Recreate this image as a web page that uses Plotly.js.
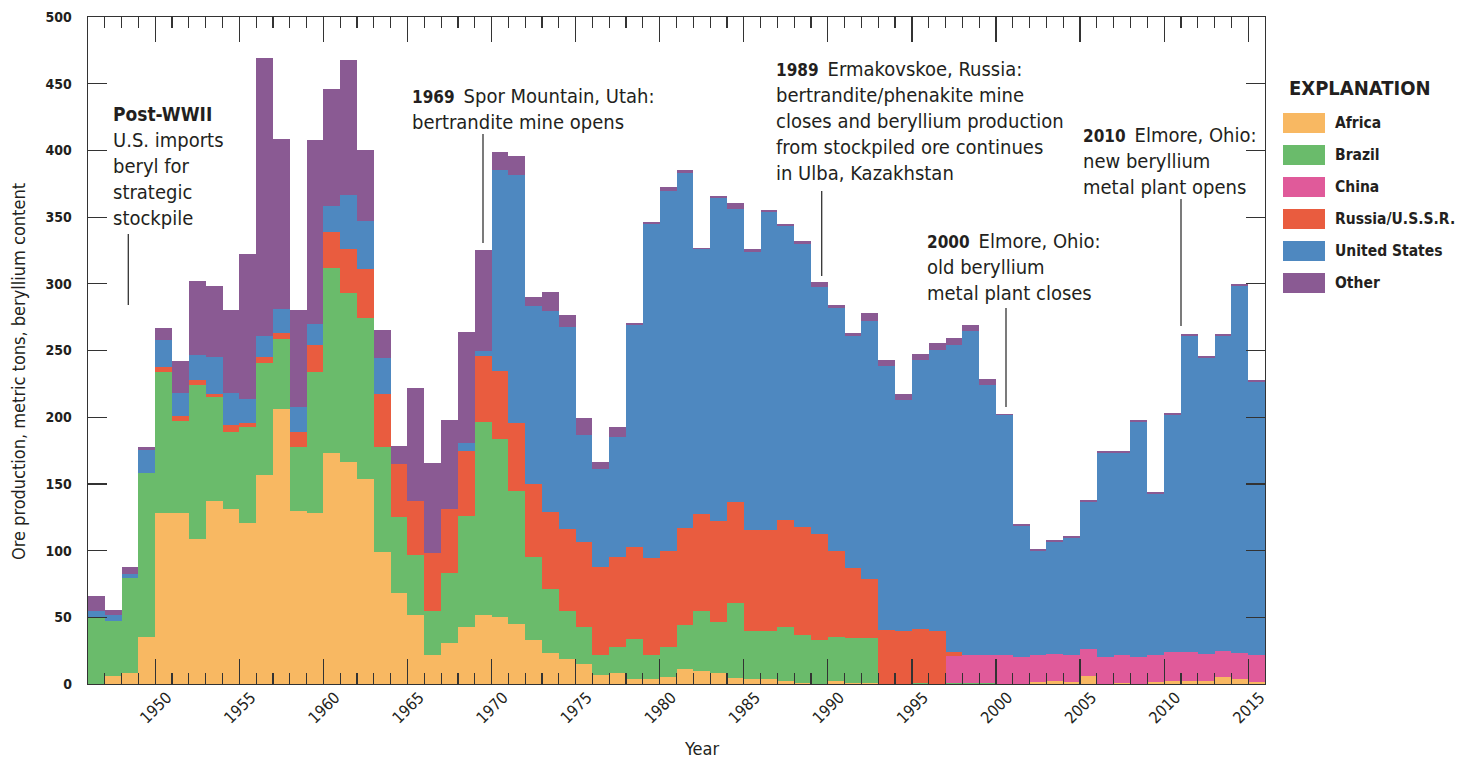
<!DOCTYPE html>
<html><head><meta charset="utf-8">
<script src="https://cdn.plot.ly/plotly-3.0.1.min.js"></script>
<style>html,body{margin:0;padding:0;background:#fff}#chart{width:1472px;height:761px}</style>
</head><body><div id="chart"></div>
<script>
const years = [1946,1947,1948,1949,1950,1951,1952,1953,1954,1955,1956,1957,1958,1959,1960,1961,1962,1963,1964,1965,1966,1967,1968,1969,1970,1971,1972,1973,1974,1975,1976,1977,1978,1979,1980,1981,1982,1983,1984,1985,1986,1987,1988,1989,1990,1991,1992,1993,1994,1995,1996,1997,1998,1999,2000,2001,2002,2003,2004,2005,2006,2007,2008,2009,2010,2011,2012,2013,2014,2015];
const africa = [0,6,8.4,35,128,128,109,137,131,121,157,206,130,128,173,166.5,154,99,68,52,22,31,43,52,50,45,33,23,19,15,7,8.5,4,4,5.5,11,9.5,8.5,4.5,4,3.9,2.6,1,0.3,2.1,0.6,0.5,0,0,0,0,0,0,0,0,0,1.6,2.6,1.4,5.9,0.3,0.9,0,1.4,1.9,2.6,2.6,4.9,4.1,1.6];
const brazil = [50,41,71,123,106,69,115,78,58,72,84,52.5,48,106,139,126.5,120,78.5,57,45,32.5,52.5,83,144.5,134,100,62,48.5,36,28,14.5,19.5,29.5,18,22,33.5,45,38,56,35.5,36.2,40,36,33,33.3,34,34.1,0,0,1,0,0.5,0.5,0.5,0,0,0,0,0,0,0,0,0,0,0,0,0,0,0,0];
const china = [0,0,0,0,0,0,0,0,0,0,0,0,0,0,0,0,0,0,0,0,0,0,0,0,0,0,0,0,0,0,0,0,0,0,0,0,0,0,0,0,0,0,0,0,0,0,0,0,0,0,0,20.3,20.9,20.9,21.4,20,19.8,20,20,20,20.1,20.5,20.1,20,22.2,21.5,20,19.7,19.3,19.8];
const russia = [0,0,0,0,4,4,4,2.5,5,3,4.5,4.5,11,20,27,33,37,40,40,40,43.5,48,48.5,49.5,51,50.5,55,57.5,61.5,63.5,66.5,67.5,69.5,72.5,72,72.5,73,75.5,76,75.7,75.7,80,80.4,79.5,64.1,52.5,44.2,40.8,39.6,40.4,40.1,3,0,0,0,0,0,0,0,0,0,0,0,0,0,0,0,0,0,0];
const unitedStates = [5,5,3,17.5,20,17.5,19,27.5,24,18,15.5,18.4,19,16,19,40.5,36,27,0,0,0,0,6,4,150,186,133,150.5,151,80.5,73,90,166,250,270,266,198.5,242.5,219.5,208.6,237.8,220.6,212.4,184.6,182.4,174,193.6,197.3,173.6,201.2,210.6,230.6,243,203,180.3,98.5,78.4,83.7,87.9,110.3,152.6,151.6,176.1,120.8,177.6,236.8,222.1,236.3,275.2,205.3];
const other = [11,3.5,5.5,2.5,9,24,55,53,62,108,208,127,72,138,88,101.5,53,21,13.5,85,67.5,66.5,83,75.5,14,14.5,7,14.5,9,12.5,5.5,7,1.5,1.5,3,2,1,1.5,4.4,2.2,2,2,2.4,4,2.5,2.1,5.8,4.5,4.3,4.8,5,5,5,4.3,1,1.5,1.5,1.5,1.5,1.5,1.5,1.5,1.5,1.5,1.5,1.5,1.5,1.5,1.5,1.5];
const seriesNames = ['Africa','Brazil','China','Russia/U.S.S.R.','United States','Other'];
const seriesValues = [africa, brazil, china, russia, unitedStates, other];
const seriesColors = ['#F8B862','#6ABB6B','#E05A9A','#E95C3F','#4E88C0','#8A5A93'];
const tickYears = [1950,1955,1960,1965,1970,1975,1980,1985,1990,1995,2000,2005,2010,2015];
const yTicks = [0,50,100,150,200,250,300,350,400,450,500];

const FONT = 'DejaVu Sans Condensed, Liberation Sans Narrow, DejaVu Sans, sans-serif';
const TXT = '#231f20';
const L = 88, R = 1265, T = 17, B = 684;
const PX = x => (x - L) / (R - L);
const PY = y => (B - y) / (B - T);
const bold = s => '<span style="font-weight:bold;font-size:17px">' + s + '</span>&#8194;';

const traces = seriesNames.map((n, i) => ({
  type: 'bar', name: n, x: years, y: seriesValues[i], width: 1, offset: 0,
  marker: {color: seriesColors[i], line: {width: 0}}, hoverinfo: 'x+y+name', showlegend: false
}));
traces.push({type: 'scatter', x: [], y: [], xaxis: 'x2', yaxis: 'y', showlegend: false});

const callouts = [
  {x: 111, y: 166, text: '<span style="font-weight:bold;font-size:19px">Post-WWII</span><br>U.S. imports<br>beryl for<br>strategic<br>stockpile'},
  {x: 410, y: 109, text: bold('1969') + 'Spor Mountain, Utah:<br>bertrandite mine opens'},
  {x: 774, y: 121, text: bold('1989') + 'Ermakovskoe, Russia:<br>bertrandite/phenakite mine<br>closes and beryllium production<br>from stockpiled ore continues<br>in Ulba, Kazakhstan'},
  {x: 925, y: 267, text: bold('2000') + 'Elmore, Ohio:<br>old beryllium<br>metal plant closes'},
  {x: 1081, y: 161, text: bold('2010') + 'Elmore, Ohio:<br>new beryllium<br>metal plant opens'}
];
const leaders = [[128.3,234,305],[483,134,243],[821.7,191,276],[1006,308,407],[1181,199,326]];

const annotations = callouts.map(c => ({
  xref: 'paper', yref: 'paper', x: PX(c.x), y: PY(c.y), xanchor: 'left', yanchor: 'middle', align: 'left',
  showarrow: false, text: c.text, font: {family: FONT, size: 20, color: TXT}
}));
annotations.push({xref:'paper', yref:'paper', x: PX(701), y: PY(748), xanchor:'center', yanchor:'middle', showarrow:false,
  text:'Year', font:{family: FONT, size: 18, color: TXT}});
annotations.push({xref:'paper', yref:'paper', x: PX(18), y: PY(372), xanchor:'center', yanchor:'middle', showarrow:false,
  textangle: -90, text:'Ore production, metric tons, beryllium content', font:{family: FONT, size: 18, color: TXT}});
annotations.push({xref:'paper', yref:'paper', x: PX(1360), y: PY(88), xanchor:'center', yanchor:'middle', showarrow:false,
  text:'<b>EXPLANATION</b>', font:{family: FONT, size: 20, color: TXT}});

const shapes = leaders.map(l => ({type:'line', xref:'paper', yref:'paper', x0: PX(l[0]), x1: PX(l[0]), y0: PY(l[1]), y1: PY(l[2]),
  line:{color:'#333', width:1.3}}));

seriesNames.forEach((n, i) => {
  const cy = 123 + 32 * i;
  shapes.push({type:'rect', xref:'paper', yref:'paper', x0: PX(1283), x1: PX(1325), y0: PY(cy - 10), y1: PY(cy + 10),
    fillcolor: seriesColors[i], line:{width:0}});
  annotations.push({xref:'paper', yref:'paper', x: PX(1333), y: PY(cy), xanchor:'left', yanchor:'middle', showarrow:false,
    text:'<b>' + n + '</b>', font:{family: FONT, size: 15.5, color: TXT}});
});

const layout = {
  width: 1472, height: 761,
  margin: {l: L, r: 1472 - R, t: T, b: 761 - B, pad: 0},
  paper_bgcolor: '#fff', plot_bgcolor: '#fff',
  barmode: 'stack', bargap: 0,
  showlegend: false,
  xaxis: {range: [1946, 2016], tickvals: tickYears, ticks: 'inside', ticklen: 25, tickwidth: 1.2, tickcolor: '#333',
    showticklabels: false, showline: true, linecolor: '#333', linewidth: 1.3, mirror: 'ticks', showgrid: false, zeroline: false,
    minor: {dtick: 1, tick0: 1946, ticks: 'inside', ticklen: 11, tickwidth: 1.2, tickcolor: '#333', showgrid: false}},
  xaxis2: {range: [1946, 2016], overlaying: 'x', anchor: 'y', side: 'bottom', tickvals: tickYears.map(v => v + 0.7),
    ticktext: tickYears.map(String), ticks: '', showline: false, showgrid: false, zeroline: false, tickangle: -45,
    tickfont: {family: FONT, size: 16, color: TXT}},
  yaxis: {range: [0, 500], tickvals: yTicks, ticks: 'inside', ticklen: 19, tickwidth: 1.2, tickcolor: '#333',
    showline: true, linecolor: '#333', linewidth: 1.3, mirror: 'ticks', showgrid: false, zeroline: false,
    ticklabelstandoff: 12, tickfont: {family: FONT, size: 14, color: TXT, weight: 'bold'}},
  annotations: annotations, shapes: shapes
};
Plotly.newPlot('chart', traces, layout, {displayModeBar: false, staticPlot: true});
</script></body></html>
